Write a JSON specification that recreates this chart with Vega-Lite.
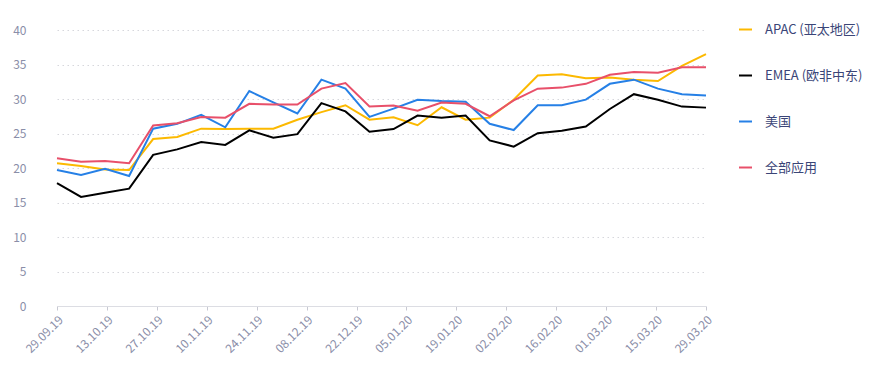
{
  "$schema": "https://vega.github.io/schema/vega-lite/v6.json",
  "width": 649,
  "height": 276,
  "autosize": {"type": "none"},
  "padding": {"left": 57, "top": 30, "right": 168, "bottom": 68},
  "background": "#ffffff",
  "config": {
    "font": "Noto Sans CJK SC",
    "view": {"stroke": null}
  },
  "data": {
    "values": [
      {"date": "2019-09-29T00:00:00", "APAC (亚太地区)": 20.7, "EMEA (欧非中东)": 17.8, "美国": 19.7, "全部应用": 21.4},
      {"date": "2019-10-05T17:47:00", "APAC (亚太地区)": 20.3, "EMEA (欧非中东)": 15.8, "美国": 19.0, "全部应用": 20.9},
      {"date": "2019-10-12T11:33:00", "APAC (亚太地区)": 19.8, "EMEA (欧非中东)": 16.4, "美国": 19.9, "全部应用": 21.0},
      {"date": "2019-10-19T05:20:00", "APAC (亚太地区)": 19.7, "EMEA (欧非中东)": 17.0, "美国": 18.85, "全部应用": 20.7},
      {"date": "2019-10-25T23:07:00", "APAC (亚太地区)": 24.2, "EMEA (欧非中东)": 21.9, "美国": 25.7, "全部应用": 26.15},
      {"date": "2019-11-01T16:53:00", "APAC (亚太地区)": 24.5, "EMEA (欧非中东)": 22.7, "美国": 26.4, "全部应用": 26.5},
      {"date": "2019-11-08T10:40:00", "APAC (亚太地区)": 25.7, "EMEA (欧非中东)": 23.75, "美国": 27.7, "全部应用": 27.4},
      {"date": "2019-11-15T04:27:00", "APAC (亚太地区)": 25.65, "EMEA (欧非中东)": 23.35, "美国": 25.9, "全部应用": 27.3},
      {"date": "2019-11-21T22:13:00", "APAC (亚太地区)": 25.7, "EMEA (欧非中东)": 25.45, "美国": 31.15, "全部应用": 29.3},
      {"date": "2019-11-28T16:00:00", "APAC (亚太地区)": 25.7, "EMEA (欧非中东)": 24.4, "美国": 29.5, "全部应用": 29.2},
      {"date": "2019-12-05T09:47:00", "APAC (亚太地区)": 27.0, "EMEA (欧非中东)": 24.9, "美国": 27.9, "全部应用": 29.2},
      {"date": "2019-12-12T03:33:00", "APAC (亚太地区)": 28.1, "EMEA (欧非中东)": 29.4, "美国": 32.8, "全部应用": 31.5},
      {"date": "2019-12-18T21:20:00", "APAC (亚太地区)": 29.1, "EMEA (欧非中东)": 28.2, "美国": 31.5, "全部应用": 32.3},
      {"date": "2019-12-25T15:07:00", "APAC (亚太地区)": 27.0, "EMEA (欧非中东)": 25.25, "美国": 27.4, "全部应用": 28.9},
      {"date": "2020-01-01T08:53:00", "APAC (亚太地区)": 27.35, "EMEA (欧非中东)": 25.65, "美国": 28.6, "全部应用": 29.05},
      {"date": "2020-01-08T02:40:00", "APAC (亚太地区)": 26.2, "EMEA (欧非中东)": 27.6, "美国": 29.9, "全部应用": 28.3},
      {"date": "2020-01-14T20:27:00", "APAC (亚太地区)": 28.8, "EMEA (欧非中东)": 27.3, "美国": 29.7, "全部应用": 29.5},
      {"date": "2020-01-21T14:13:00", "APAC (亚太地区)": 27.0, "EMEA (欧非中东)": 27.6, "美国": 29.6, "全部应用": 29.3},
      {"date": "2020-01-28T08:00:00", "APAC (亚太地区)": 27.3, "EMEA (欧非中东)": 24.0, "美国": 26.4, "全部应用": 27.5},
      {"date": "2020-02-04T01:47:00", "APAC (亚太地区)": 29.9, "EMEA (欧非中东)": 23.1, "美国": 25.5, "全部应用": 29.8},
      {"date": "2020-02-10T19:33:00", "APAC (亚太地区)": 33.4, "EMEA (欧非中东)": 25.05, "美国": 29.1, "全部应用": 31.5},
      {"date": "2020-02-17T13:20:00", "APAC (亚太地区)": 33.6, "EMEA (欧非中东)": 25.4, "美国": 29.1, "全部应用": 31.65},
      {"date": "2020-02-24T07:07:00", "APAC (亚太地区)": 33.0, "EMEA (欧非中东)": 26.0, "美国": 29.9, "全部应用": 32.2},
      {"date": "2020-03-02T00:53:00", "APAC (亚太地区)": 33.1, "EMEA (欧非中东)": 28.55, "美国": 32.2, "全部应用": 33.5},
      {"date": "2020-03-08T18:40:00", "APAC (亚太地区)": 32.8, "EMEA (欧非中东)": 30.7, "美国": 32.8, "全部应用": 33.9},
      {"date": "2020-03-15T12:27:00", "APAC (亚太地区)": 32.6, "EMEA (欧非中东)": 29.9, "美国": 31.5, "全部应用": 33.8},
      {"date": "2020-03-22T06:13:00", "APAC (亚太地区)": 34.8, "EMEA (欧非中东)": 28.9, "美国": 30.7, "全部应用": 34.6},
      {"date": "2020-03-29T00:00:00", "APAC (亚太地区)": 36.5, "EMEA (欧非中东)": 28.75, "美国": 30.5, "全部应用": 34.6}
    ]
  },
  "transform": [
    {"fold": ["APAC (亚太地区)", "EMEA (欧非中东)", "美国", "全部应用"], "as": ["series", "value"]}
  ],
  "mark": {"type": "line", "strokeWidth": 2, "interpolate": "linear"},
  "encoding": {
    "x": {
      "field": "date",
      "type": "temporal",
      "title": null,
      "axis": {
        "values": [
          {"year": 2019, "month": 9, "date": 29},
          {"year": 2019, "month": 10, "date": 13},
          {"year": 2019, "month": 10, "date": 27},
          {"year": 2019, "month": 11, "date": 10},
          {"year": 2019, "month": 11, "date": 24},
          {"year": 2019, "month": 12, "date": 8},
          {"year": 2019, "month": 12, "date": 22},
          {"year": 2020, "month": 1, "date": 5},
          {"year": 2020, "month": 1, "date": 19},
          {"year": 2020, "month": 2, "date": 2},
          {"year": 2020, "month": 2, "date": 16},
          {"year": 2020, "month": 3, "date": 1},
          {"year": 2020, "month": 3, "date": 15},
          {"year": 2020, "month": 3, "date": 29}
        ],
        "format": "%d.%m.%y",
        "labelAngle": -45,
        "labelFontSize": 12,
        "labelColor": "#8a8ea8",
        "labelPadding": 4,
        "labelOverlap": false,
        "labelFlush": false,
        "grid": false,
        "domain": true,
        "domainColor": "#dcdde3",
        "domainWidth": 1,
        "ticks": true,
        "tickColor": "#c8c9d2",
        "tickSize": 4
      },
      "scale": {"nice": false}
    },
    "y": {
      "field": "value",
      "type": "quantitative",
      "title": null,
      "scale": {"domain": [0, 40], "nice": false, "zero": true},
      "axis": {
        "values": [0, 5, 10, 15, 20, 25, 30, 35, 40],
        "labelFontSize": 12,
        "labelColor": "#8a8ea8",
        "labelPadding": 31,
        "ticks": false,
        "domain": false,
        "grid": true,
        "gridColor": "#d6d7dc",
        "gridDash": [1.5, 3.5],
        "gridWidth": 1
      }
    },
    "color": {
      "field": "series",
      "type": "nominal",
      "scale": {
        "domain": ["APAC (亚太地区)", "EMEA (欧非中东)", "美国", "全部应用"],
        "range": ["#fcb900", "#000000", "#2680e6", "#e8506a"]
      },
      "legend": {
        "title": null,
        "orient": "none",
        "legendX": 681,
        "legendY": -8,
        "symbolType": "stroke",
        "symbolSize": 169,
        "symbolStrokeWidth": 2,
        "labelFontSize": 13,
        "labelColor": "#3a4577",
        "labelOffset": 12,
        "rowPadding": 31,
        "labelLimit": 200
      }
    }
  }
}
